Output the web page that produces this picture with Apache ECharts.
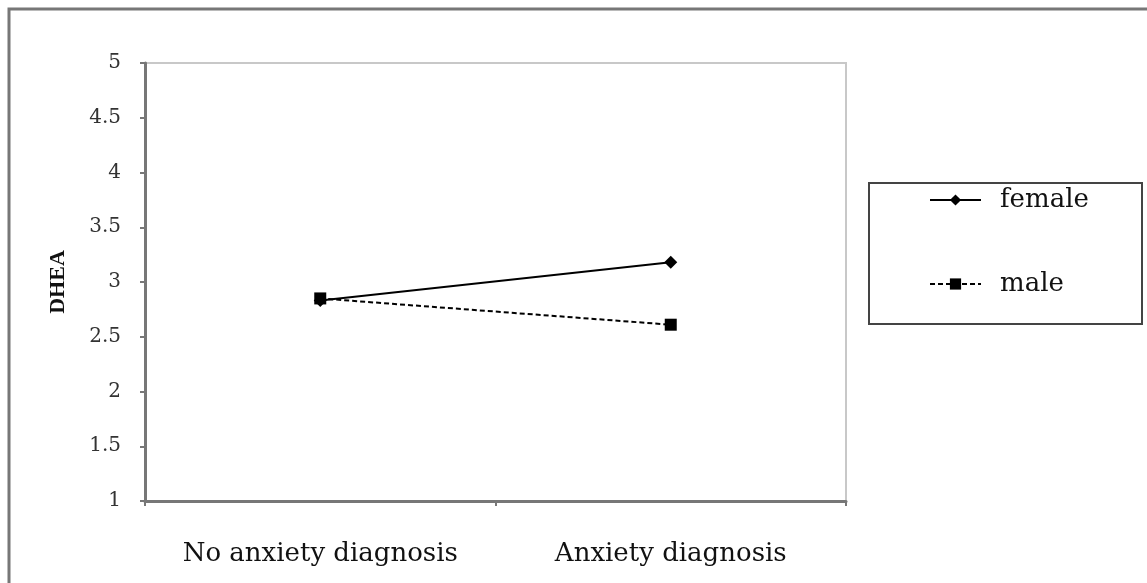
<!DOCTYPE html>
<html>
<head>
<meta charset="utf-8">
<script src="https://cdn.jsdelivr.net/npm/echarts@6/dist/echarts.min.js"></script>
<style>
html,body{margin:0;padding:0;background:#fff;}
#chart{width:1147px;height:583px;}
</style>
</head>
<body>
<div id="chart"></div>
<script>
var categories = ['No anxiety diagnosis', 'Anxiety diagnosis'];
var femaleValues = [2.83, 3.18];
var maleValues = [2.85, 2.61];
var yTicks = { min: 1, max: 5, interval: 0.5 };

var chart = echarts.init(document.getElementById('chart'));
var serif = 'DejaVu Serif';
chart.setOption({
  animation: false,
  backgroundColor: '#fff',
  graphic: [
    { type: 'rect', shape: { x: 9, y: 9, width: 1300, height: 700 },
      style: { fill: 'none', stroke: '#777', lineWidth: 3 }, z: -1 },
    { type: 'rect', shape: { x: 869, y: 183, width: 273, height: 141 },
      style: { fill: '#fff', stroke: '#444', lineWidth: 2 }, z: 0 }
  ],
  grid: { left: 145, right: 301, top: 63, bottom: 82, show: true, borderColor: '#c8c8c8', borderWidth: 2 },
  legend: {
    orient: 'vertical', left: 929, top: 187, itemWidth: 51, itemHeight: 14, itemGap: 58,
    padding: 0, z: 5,
    textStyle: { fontFamily: serif, fontSize: 26, color: '#111', padding: [0, 0, 0, 14] },
    data: ['female', 'male']
  },
  xAxis: {
    type: 'category', data: categories, boundaryGap: true,
    axisLine: { lineStyle: { color: '#777', width: 3 } },
    axisTick: { show: true, interval: 0, alignWithLabel: false, length: 5, lineStyle: { color: '#777', width: 2 } },
    axisLabel: { interval: 0, fontFamily: serif, fontSize: 26, color: '#111', margin: 40 },
    splitLine: { show: false }
  },
  yAxis: {
    type: 'value', min: yTicks.min, max: yTicks.max, interval: yTicks.interval,
    name: 'DHEA', nameLocation: 'middle', nameGap: 76, nameRotate: 90,
    nameTextStyle: { fontFamily: 'Liberation Serif', fontWeight: 'bold', fontSize: 22, color: '#111' },
    axisLine: { show: true, lineStyle: { color: '#777', width: 3 } },
    axisTick: { show: true, length: 5, lineStyle: { color: '#777', width: 2 } },
    axisLabel: { fontFamily: serif, fontSize: 20, color: '#333', margin: 24 },
    splitLine: { show: false }
  },
  series: [
    { name: 'female', type: 'line', data: femaleValues, symbol: 'diamond', symbolSize: 13,
      lineStyle: { color: '#000', width: 2 }, itemStyle: { color: '#000' }, z: 3 },
    { name: 'male', type: 'line', data: maleValues, symbol: 'rect', symbolSize: 12,
      lineStyle: { color: '#000', width: 2, type: [5, 3] }, itemStyle: { color: '#000' }, z: 2 }
  ]
});
</script>
</body>
</html>
